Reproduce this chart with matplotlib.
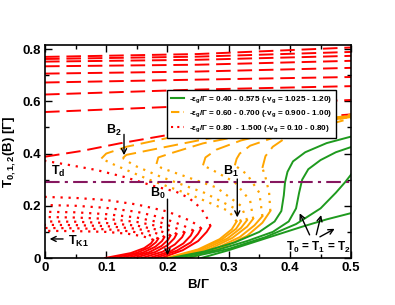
import matplotlib
matplotlib.use("Agg")
import matplotlib.pyplot as plt

plt.rcParams['font.family'] = ['Liberation Sans', 'DejaVu Sans']
plt.rcParams['font.weight'] = 'bold'
plt.rcParams['mathtext.fontset'] = 'custom'
plt.rcParams['mathtext.rm'] = 'Liberation Sans:bold'
plt.rcParams['mathtext.it'] = 'Liberation Sans:bold'
plt.rcParams['mathtext.bf'] = 'Liberation Sans:bold'

# ---------------- data (B/Gamma, T/Gamma) ----------------
# red family: -eps_g/Gamma = 0.80 ... 1.50
red_solid_B = [[0.190, 0.225, 0.250, 0.264, 0.270],
               [0.180, 0.215, 0.238, 0.250, 0.255],
               [0.170, 0.205, 0.226, 0.238, 0.242],
               [0.158, 0.192, 0.212, 0.224, 0.228],
               [0.146, 0.180, 0.200, 0.211, 0.215],
               [0.134, 0.170, 0.190, 0.201, 0.205],
               [0.122, 0.160, 0.180, 0.191, 0.195],
               [0.110, 0.150, 0.170, 0.181, 0.185],
               [0.098, 0.140, 0.162, 0.173, 0.177]]
red_solid_T = [[0.0, 0.030, 0.065, 0.100, 0.122],
               [0.0, 0.028, 0.060, 0.093, 0.113],
               [0.0, 0.026, 0.056, 0.086, 0.105],
               [0.0, 0.024, 0.052, 0.080, 0.098],
               [0.0, 0.023, 0.049, 0.075, 0.092],
               [0.0, 0.022, 0.046, 0.070, 0.086],
               [0.0, 0.021, 0.043, 0.065, 0.080],
               [0.0, 0.020, 0.040, 0.060, 0.074],
               [0.0, 0.019, 0.038, 0.056, 0.069]]
red_dot_B = [[0.270, 0.268, 0.255, 0.235, 0.214, 0.180, 0.130, 0.084, 0.040, 0.0],
             [0.255, 0.250, 0.235, 0.200, 0.150, 0.100, 0.050, 0.0],
             [0.242, 0.240, 0.225, 0.190, 0.150, 0.100, 0.050, 0.0],
             [0.228, 0.215, 0.190, 0.150, 0.100, 0.050, 0.0],
             [0.215, 0.205, 0.185, 0.150, 0.100, 0.050, 0.0],
             [0.205, 0.198, 0.180, 0.150, 0.100, 0.050, 0.0],
             [0.195, 0.190, 0.175, 0.150, 0.100, 0.050, 0.0],
             [0.185, 0.180, 0.165, 0.140, 0.100, 0.050, 0.0],
             [0.177, 0.172, 0.158, 0.135, 0.100, 0.050, 0.0]]
red_dot_T = [[0.122, 0.140, 0.190, 0.230, 0.254, 0.274, 0.310, 0.337, 0.356, 0.372],
             [0.113, 0.125, 0.145, 0.178, 0.205, 0.222, 0.230, 0.234],
             [0.105, 0.108, 0.125, 0.155, 0.177, 0.192, 0.200, 0.203],
             [0.098, 0.113, 0.135, 0.155, 0.168, 0.175, 0.177],
             [0.092, 0.104, 0.122, 0.138, 0.150, 0.155, 0.157],
             [0.086, 0.095, 0.110, 0.124, 0.134, 0.139, 0.140],
             [0.080, 0.088, 0.100, 0.112, 0.122, 0.126, 0.127],
             [0.074, 0.080, 0.092, 0.102, 0.110, 0.114, 0.115],
             [0.069, 0.075, 0.084, 0.093, 0.100, 0.103, 0.104]]
red_dash_B = [[0.0, 0.060, 0.122, 0.198, 0.300, 0.400, 0.500],
              [0.0, 0.25, 0.5], [0.0, 0.25, 0.5], [0.0, 0.25, 0.5], [0.0, 0.25, 0.5],
              [0.0, 0.25, 0.5], [0.0, 0.25, 0.5], [0.0, 0.25, 0.5], [0.0, 0.25, 0.5]]
red_dash_T = [[0.388, 0.410, 0.439, 0.470, 0.505, 0.530, 0.550],
              [0.559, 0.583, 0.605],
              [0.626, 0.645, 0.658],
              [0.672, 0.683, 0.693],
              [0.706, 0.714, 0.728],
              [0.734, 0.740, 0.755],
              [0.752, 0.759, 0.774],
              [0.762, 0.771, 0.789],
              [0.770, 0.781, 0.806]]

# orange family: -eps_g/Gamma = 0.60 ... 0.70
org_solid_B = [[0.235, 0.290, 0.330, 0.355, 0.368],
               [0.228, 0.280, 0.318, 0.342, 0.355],
               [0.220, 0.270, 0.306, 0.330, 0.340],
               [0.212, 0.262, 0.298, 0.320, 0.330],
               [0.205, 0.255, 0.290, 0.312, 0.320],
               [0.198, 0.250, 0.285, 0.305, 0.313]]
org_solid_T = [[0.0, 0.040, 0.085, 0.135, 0.180],
               [0.0, 0.038, 0.080, 0.125, 0.160],
               [0.0, 0.036, 0.077, 0.120, 0.150],
               [0.0, 0.035, 0.075, 0.115, 0.145],
               [0.0, 0.034, 0.073, 0.112, 0.140],
               [0.0, 0.033, 0.072, 0.110, 0.140]]
org_dot_B = [[0.368, 0.366, 0.360, 0.355],
             [0.355, 0.350, 0.330, 0.310],
             [0.340, 0.335, 0.310, 0.275, 0.258],
             [0.330, 0.320, 0.280, 0.220, 0.190, 0.182],
             [0.320, 0.310, 0.260, 0.190, 0.145, 0.127],
             [0.313, 0.300, 0.240, 0.170, 0.115, 0.092]]
org_dot_T = [[0.180, 0.250, 0.310, 0.345],
             [0.160, 0.250, 0.320, 0.355],
             [0.150, 0.220, 0.290, 0.335, 0.355],
             [0.145, 0.200, 0.270, 0.320, 0.345, 0.360],
             [0.140, 0.190, 0.250, 0.310, 0.355, 0.383],
             [0.140, 0.180, 0.240, 0.300, 0.355, 0.381]]
org_dash_B = [[0.355, 0.360, 0.372, 0.390, 0.430, 0.500],
              [0.310, 0.313, 0.318, 0.335, 0.366, 0.420, 0.500],
              [0.258, 0.262, 0.280, 0.320, 0.380, 0.500],
              [0.182, 0.185, 0.204, 0.258, 0.339, 0.500],
              [0.127, 0.133, 0.171, 0.252, 0.350, 0.500],
              [0.092, 0.100, 0.133, 0.209, 0.320, 0.500]]
org_dash_T = [[0.345, 0.390, 0.426, 0.455, 0.490, 0.535],
              [0.355, 0.380, 0.400, 0.430, 0.455, 0.500, 0.550],
              [0.355, 0.385, 0.415, 0.450, 0.485, 0.545],
              [0.360, 0.385, 0.400, 0.439, 0.477, 0.540],
              [0.383, 0.395, 0.413, 0.451, 0.490, 0.540],
              [0.381, 0.400, 0.426, 0.464, 0.500, 0.545]]

# green family: -eps_g/Gamma = 0.40 ... 0.575 (T0 = T1 = T2)
grn_B = [[0.205, 0.260, 0.310, 0.350, 0.375, 0.386, 0.390, 0.392, 0.396, 0.405, 0.425, 0.460, 0.500],
         [0.215, 0.280, 0.330, 0.372, 0.398, 0.410, 0.415, 0.420, 0.430, 0.450, 0.475, 0.500],
         [0.230, 0.300, 0.360, 0.410, 0.450, 0.475, 0.490, 0.500],
         [0.255, 0.300, 0.360, 0.420, 0.460, 0.500]]
grn_T = [[0.0, 0.025, 0.060, 0.100, 0.140, 0.180, 0.240, 0.290, 0.330, 0.370, 0.405, 0.440, 0.465],
         [0.0, 0.030, 0.065, 0.100, 0.140, 0.190, 0.250, 0.300, 0.340, 0.375, 0.405, 0.425],
         [0.0, 0.035, 0.080, 0.130, 0.190, 0.250, 0.290, 0.320],
         [0.0, 0.030, 0.075, 0.120, 0.148, 0.172]]

T_d = 0.29
legend_labels = [r'-$\varepsilon_g$/$\Gamma$ = 0.40 - 0.575 (-v$_g$ = 1.025 - 1.20)',
                 r'-$\varepsilon_g$/$\Gamma$ = 0.60 - 0.700 (-v$_g$ = 0.900 - 1.00)',
                 r'-$\varepsilon_g$/$\Gamma$ = 0.80  - 1.500 (-v$_g$ = 0.10 - 0.80)']

RED = '#ff0000'
ORG = '#ffa500'
GRN = '#1e9a1e'
PUR = '#86175f'

fig = plt.figure(figsize=(3.95, 3.05), dpi=100)
ax = fig.add_axes([0.114, 0.154, 0.775, 0.698])

lw = 1.4
dash = (0, (7.5, 3.5))
dots = (0, (1, 2.6))

for Bs, Ts in zip(red_solid_B, red_solid_T):
    ax.plot(Bs, Ts, color=RED, lw=lw)
for Bs, Ts in zip(red_dot_B, red_dot_T):
    ax.plot(Bs, Ts, color=RED, lw=1.6, linestyle=dots)
for Bs, Ts in zip(red_dash_B, red_dash_T):
    ax.plot(Bs, Ts, color=RED, lw=lw, linestyle=dash)

for Bs, Ts in zip(org_solid_B, org_solid_T):
    ax.plot(Bs, Ts, color=ORG, lw=lw)
for Bs, Ts in zip(org_dot_B, org_dot_T):
    ax.plot(Bs, Ts, color=ORG, lw=1.6, linestyle=dots)
for Bs, Ts in zip(org_dash_B, org_dash_T):
    ax.plot(Bs, Ts, color=ORG, lw=lw, linestyle=dash)

for Bs, Ts in zip(grn_B, grn_T):
    ax.plot(Bs, Ts, color=GRN, lw=lw)

ax.axhline(T_d, color=PUR, lw=1.5, linestyle=(0, (7, 2.5, 1.5, 2.5)))

# legend
h1, = ax.plot([], [], color=GRN, lw=1.5)
h2, = ax.plot([], [], color=ORG, lw=1.5, linestyle=(0, (4, 2)))
h3, = ax.plot([], [], color=RED, lw=1.5, linestyle=(0, (1, 2)))
leg = ax.legend([h1, h2, h3], legend_labels, loc='upper left',
                bbox_to_anchor=(0.398, 0.787), fontsize=5.9, frameon=True,
                fancybox=False, framealpha=1, edgecolor='black',
                handlelength=1.7, handletextpad=0.6, borderpad=0.45,
                labelspacing=0.45, borderaxespad=0)
leg.get_frame().set_linewidth(1.0)

ax.set_xlim(0, 0.5)
ax.set_ylim(0, 0.815)
ax.set_xticks([0, 0.1, 0.2, 0.3, 0.4, 0.5])
ax.set_xticklabels(['0', '0.1', '0.2', '0.3', '0.4', '0.5'])
ax.set_xticks([0.05, 0.15, 0.25, 0.35, 0.45], minor=True)
ax.set_yticks([0, 0.2, 0.4, 0.6, 0.8])
ax.set_yticklabels(['0', '0.2', '0.4', '0.6', '0.8'])
ax.set_yticks([0.1, 0.3, 0.5, 0.7], minor=True)
ax.tick_params(which='both', direction='in', top=True, right=True,
               labelsize=9.5, width=1.0)
ax.tick_params(which='major', length=5, pad=3)
ax.tick_params(which='minor', length=3)
for lab in ax.get_xticklabels() + ax.get_yticklabels():
    lab.set_fontweight('bold')
for s in ax.spines.values():
    s.set_linewidth(1.2)

ax.set_xlabel(r'B/$\Gamma$', fontsize=9.5, fontweight='bold', labelpad=3)
ax.set_ylabel(r'T$_{0,1,2}$(B) [$\Gamma$]', fontsize=9.5, fontweight='bold', labelpad=3)

# annotations
akw = dict(arrowstyle='->', color='black', lw=1.0, mutation_scale=9)
tkw = dict(fontsize=9, fontweight='bold', color='black')
ax.annotate('', xy=(0.129, 0.383), xytext=(0.129, 0.484), arrowprops=akw)
ax.text(0.100, 0.487, r'B$_2$', ha='left', va='center', **tkw)
ax.annotate('', xy=(0.200, 0.0), xytext=(0.200, 0.236), arrowprops=akw)
ax.text(0.172, 0.249, r'B$_0$', ha='left', va='center', **tkw)
ax.annotate('', xy=(0.314, 0.145), xytext=(0.314, 0.313), arrowprops=akw)
ax.text(0.290, 0.330, r'B$_1$', ha='left', va='center', **tkw)
ax.text(0.010, 0.330, r'T$_d$', ha='left', va='center', **tkw)
ax.annotate('', xy=(0.003, 0.073), xytext=(0.034, 0.073), arrowprops=akw)
ax.text(0.038, 0.064, r'T$_{K1}$', ha='left', va='center', **tkw)
ax.text(0.446, 0.040, r'T$_0$ = T$_1$ = T$_2$', ha='center', va='center',
        fontsize=8.5, fontweight='bold', color='black')
ax.annotate('', xy=(0.414, 0.181), xytext=(0.434, 0.079), arrowprops=akw)
ax.annotate('', xy=(0.452, 0.175), xytext=(0.442, 0.079), arrowprops=akw)
ax.annotate('', xy=(0.477, 0.117), xytext=(0.445, 0.076), arrowprops=akw)

fig.savefig('out.png', dpi=100)
